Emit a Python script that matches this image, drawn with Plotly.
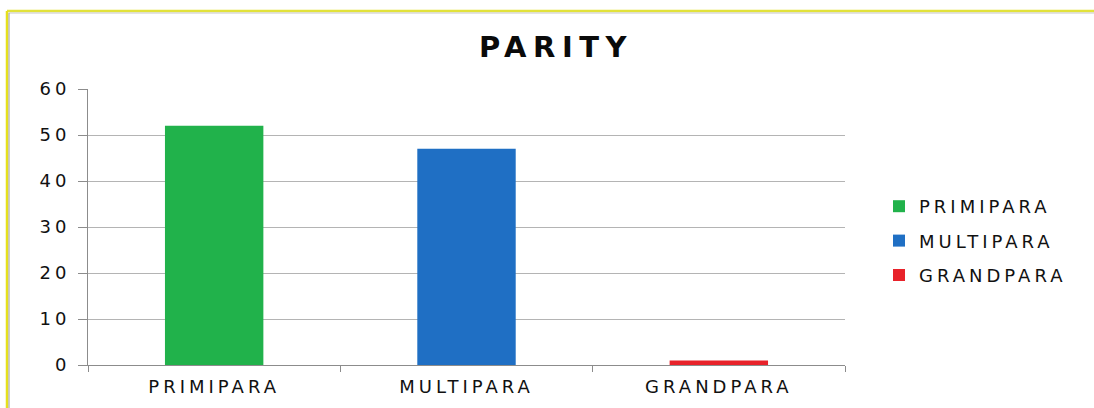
import plotly.graph_objects as go

categories = ["PRIMIPARA", "MULTIPARA", "GRANDPARA"]
values = [52, 47, 1]
colors = ["#21b24b", "#1f6fc4", "#e8222a"]
y_ticks = [0, 10, 20, 30, 40, 50, 60]

W, H = 1094, 408
L, R, T, B = 88, 249, 89, 43
pw, ph = W - L - R, H - T - B

TEXT = "#111111"
FONT = "DejaVu Sans"

fig = go.Figure()
for cat, val, col in zip(categories, values, colors):
    fig.add_trace(go.Bar(
        x=[cat], y=[val], name=cat, legendgroup=cat,
        marker=dict(color=col, line=dict(width=0)),
        width=0.39,
    ))

# frame lines (yellow with a thin grey inner edge) along the top and left
xl = (7 - L) / pw
xr = (W - L) / pw
yt = 1 + (T - 11) / ph
yb = -(B) / ph
shapes = [
    dict(type="line", xref="paper", yref="paper", x0=xl, x1=xr, y0=yt, y1=yt,
         line=dict(color="#e2e23a", width=2.5)),
    dict(type="line", xref="paper", yref="paper", x0=xl, x1=xl, y0=yt, y1=yb,
         line=dict(color="#e6e01c", width=2.5)),
    dict(type="line", xref="paper", yref="paper", x0=xl + 2 / pw, x1=xr, y0=yt - 2 / ph, y1=yt - 2 / ph,
         line=dict(color="#c8c8c8", width=1)),
    dict(type="line", xref="paper", yref="paper", x0=xl + 2 / pw, x1=xl + 2 / pw, y0=yt - 2 / ph, y1=yb,
         line=dict(color="#9a9a9a", width=1)),
]

fig.update_layout(
    width=W, height=H,
    margin=dict(l=L, r=R, t=T, b=B, pad=0),
    paper_bgcolor="white", plot_bgcolor="white",
    barmode="overlay",
    showlegend=True,
    title=dict(text="<b>PARITY</b>", x=(556 - L) / pw, xref="paper", xanchor="center",
               y=1 - 47 / H, yanchor="middle",
               font=dict(family=FONT, size=29, color="#0a0a0a")),
    legend=dict(x=(879 - L) / pw, xanchor="left", y=1 - (188 - T) / ph, yanchor="top",
                font=dict(family=FONT, size=18, color=TEXT),
                traceorder="grouped", tracegroupgap=8, itemwidth=30,
                bgcolor="rgba(0,0,0,0)"),
    font=dict(family=FONT, size=18, color=TEXT),
    xaxis=dict(
        type="category", categoryorder="array", categoryarray=categories,
        showline=True, linecolor="#8c8c8c", linewidth=1,
        ticks="outside", tickson="boundaries", ticklen=6, tickcolor="#8c8c8c",
        showgrid=False, tickfont=dict(family=FONT, size=18, color=TEXT),
        ticklabelstandoff=5,
        range=[-0.5, 2.5],
    ),
    yaxis=dict(
        range=[0, 60], tickvals=y_ticks, ticktext=[str(v) for v in y_ticks],
        showline=True, linecolor="#8c8c8c", linewidth=1,
        ticks="outside", ticklen=9, tickcolor="#8c8c8c",
        showgrid=True, gridcolor="#b4b4b4", gridwidth=1,
        zeroline=False, ticklabelstandoff=4,
        tickfont=dict(family=FONT, size=18, color=TEXT),
    ),
    shapes=shapes,
)

# wide letter tracking for the chart's labels; legend text is left unclipped
tracking = """
var s = document.createElement('style');
s.textContent = '.xtick text, .ytick text, .legendtext {letter-spacing: 4px;}'
  + ' .gtitle {letter-spacing: 6.5px;}'
  + ' .legend .scrollbox, .legend g {clip-path: none !important;}';
document.head.appendChild(s);
"""

fig.write_html("out.html", post_script=tracking)
